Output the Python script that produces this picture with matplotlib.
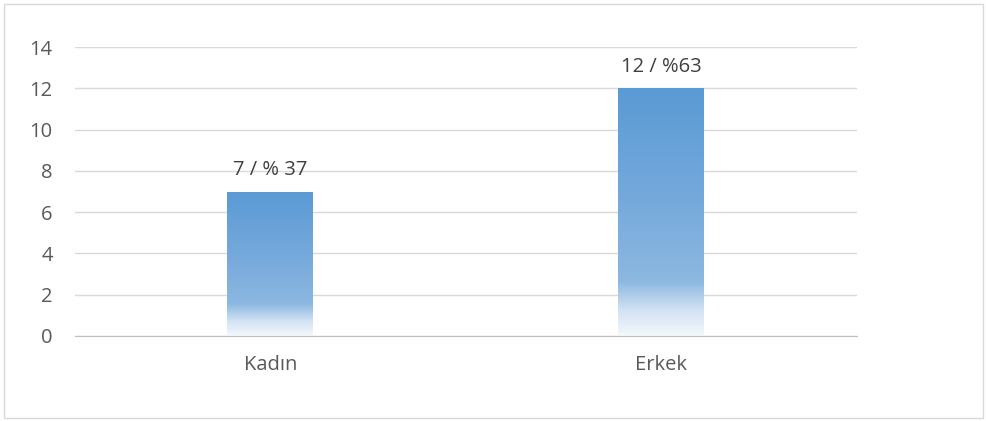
import matplotlib.pyplot as plt
from matplotlib.colors import LinearSegmentedColormap
from matplotlib.patches import Rectangle
import numpy as np

categories = ['Kadın', 'Erkek']
values = [7, 12]
bar_labels = ['7 / % 37', '12 / %63']
yticks = [0, 2, 4, 6, 8, 10, 12, 14]

plt.rcParams['font.family'] = ['Open Sans', 'DejaVu Sans']

# Gradient from the bottom (near white) to the top (Excel blue).
grad = LinearSegmentedColormap.from_list('bar_grad', [
    (0.0, '#F4F8FC'),
    (0.10, '#D3E3F3'),
    (0.22, '#8CB8E1'),
    (0.55, '#76A9DB'),
    (1.0, '#5A9AD5'),
])

fig = plt.figure(figsize=(9.87, 4.21), dpi=100)
ax = fig.add_axes([0.076, 0.202, 0.792, 0.686])

# Chart border.
fig.patches.append(Rectangle((0.004, 0.007), 0.992, 0.983, transform=fig.transFigure,
                             fill=False, edgecolor='#D9D9D9', linewidth=1))

width = 0.22
x = np.arange(len(categories))
ramp = np.linspace(0, 1, 256).reshape(-1, 1)
for xi, v, lab in zip(x, values, bar_labels):
    bar = Rectangle((xi - width / 2, 0), width, v, facecolor='none', edgecolor='none')
    ax.add_patch(bar)
    im = ax.imshow(ramp, cmap=grad, origin='lower', aspect='auto',
                   extent=[xi - width / 2, xi + width / 2, 0, v], zorder=2)
    im.set_clip_path(bar)
    ax.text(xi, v + 0.78, lab, ha='center', va='baseline', fontsize=14.5, color='#404040')

ax.set_xlim(-0.5, len(categories) - 0.5)
ax.set_ylim(0, 14)
ax.set_yticks(yticks)
ax.set_xticks(x)
ax.set_xticklabels(categories)
ax.grid(axis='y', color='#D9D9D9', linewidth=1)
ax.set_axisbelow(True)
for side in ['top', 'right', 'left']:
    ax.spines[side].set_visible(False)
ax.spines['bottom'].set_color('#BFBFBF')
ax.tick_params(axis='both', length=0, labelsize=14.5, labelcolor='#595959')
ax.tick_params(axis='y', pad=16)
ax.tick_params(axis='x', pad=14)

plt.savefig('out.png', dpi=100)
